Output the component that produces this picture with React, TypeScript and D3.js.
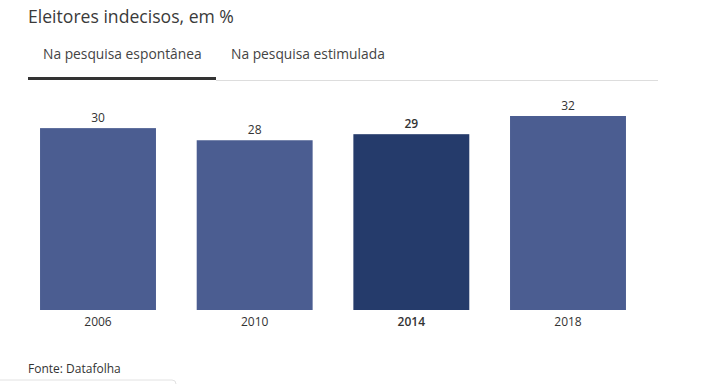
import React from "react";
import * as d3 from "d3";

const years = ["2006", "2010", "2014", "2018"];
const values = [30, 28, 29, 32];
const highlight = "2014";
const title = "Eleitores indecisos, em %";
const tabs = ["Na pesquisa espontânea", "Na pesquisa estimulada"];
const source = "Fonte: Datafolha";

const W = 714;
const H = 384;
const FONT = "'Open Sans', 'Noto Sans', sans-serif";

export default function App() {
  const x = d3
    .scaleBand<string>()
    .domain(years)
    .range([19.67, 646.33])
    .paddingInner(0.26)
    .paddingOuter(0.13);
  const y = d3.scaleLinear().domain([0, 32]).range([310, 116]);

  return (
    <svg
      width={W}
      height={H}
      style={{ position: "absolute", left: 0, top: 0, background: "#fff" }}
      fontFamily={FONT}
    >
      <text x={28} y={23} fontSize={17.6} fill="#3a3a3a">
        {title}
      </text>
      <text x={43} y={59} fontSize={13.8} fill="#444">
        {tabs[0]}
      </text>
      <text x={231} y={59} fontSize={13.8} fill="#444">
        {tabs[1]}
      </text>
      <line x1={216} x2={658} y1={80.5} y2={80.5} stroke="#ddd" strokeWidth={1} />
      <rect x={28} y={77} width={188} height={3} fill="#333" />

      {years.map((yr, i) => {
        const bx = x(yr)!;
        const bw = x.bandwidth();
        const isH = yr === highlight;
        return (
          <g key={yr}>
            <rect
              x={bx}
              y={y(values[i])}
              width={bw}
              height={y(0) - y(values[i])}
              fill={isH ? "#253b6b" : "#4b5d91"}
            />
            <text
              x={bx + bw / 2}
              y={y(values[i]) - 6}
              textAnchor="middle"
              fontSize={12}
              fontWeight={isH ? 600 : 400}
              fill="#333"
            >
              {values[i]}
            </text>
            <text
              x={bx + bw / 2}
              y={326}
              textAnchor="middle"
              fontSize={12}
              fontWeight={isH ? 600 : 400}
              fill="#333"
            >
              {yr}
            </text>
          </g>
        );
      })}

      <text x={28} y={373} fontSize={12} fill="#333">
        {source}
      </text>
      <rect x={-6} y={380} width={182} height={20} rx={4} fill="#fff" stroke="#e2e2e2" />
    </svg>
  );
}
